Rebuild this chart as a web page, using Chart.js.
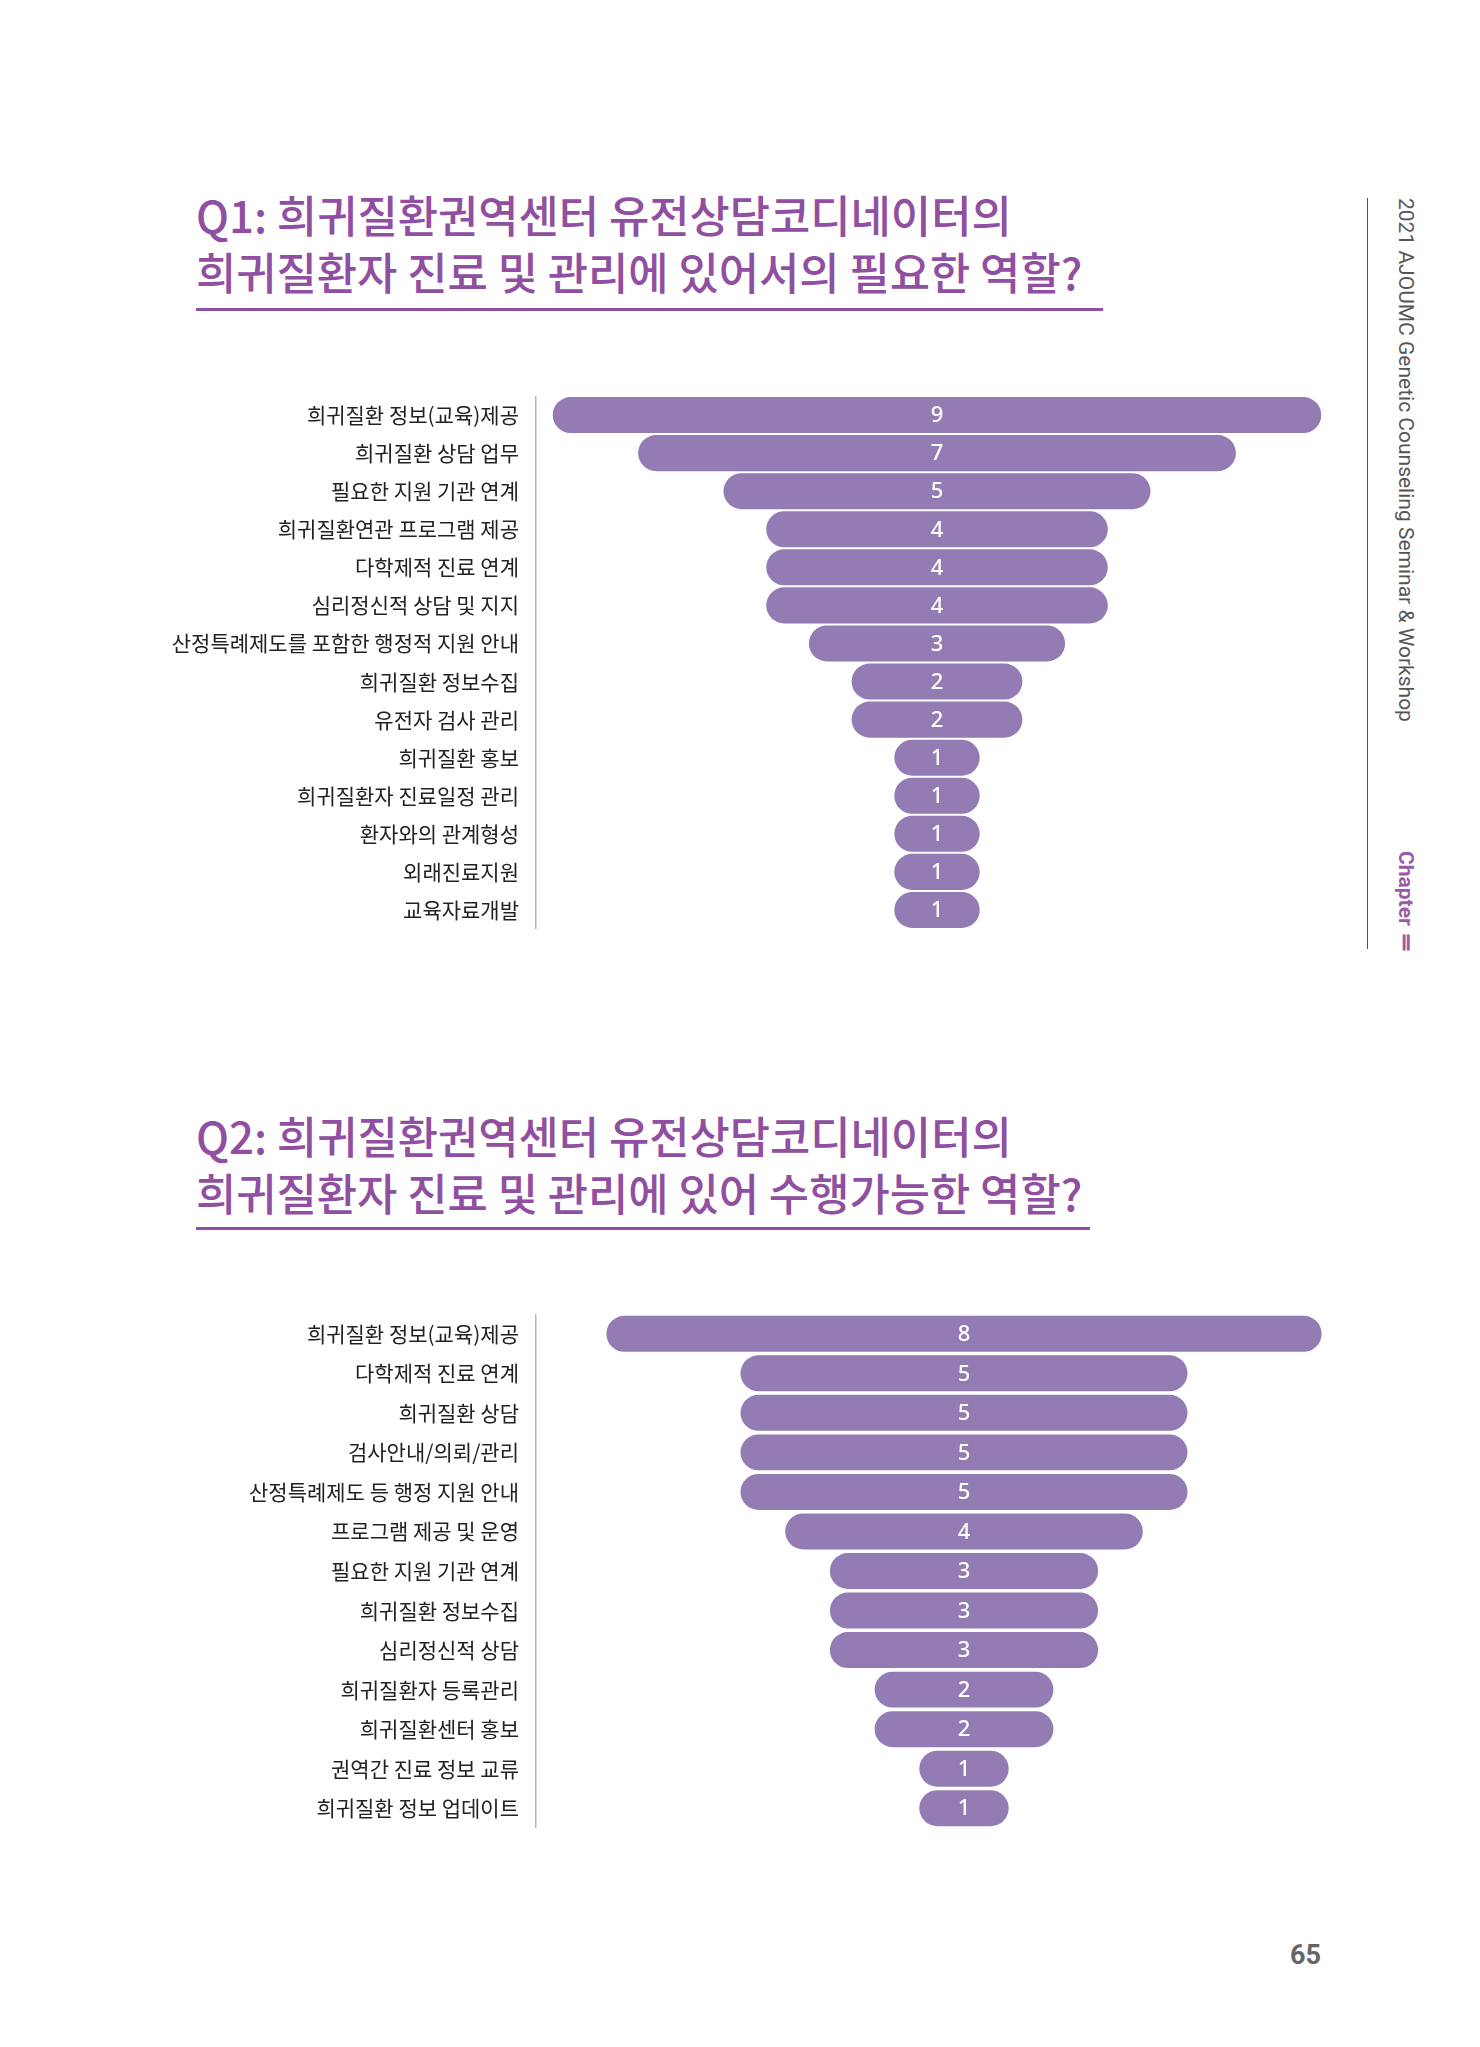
<!DOCTYPE html>
<html>
<head>
<meta charset="utf-8">
<script src="https://cdn.jsdelivr.net/npm/chart.js@4.4.0/dist/chart.umd.min.js"></script>
<style>
  html, body { margin: 0; padding: 0; background: #fff; }
  body { width: 1480px; height: 2047px; position: relative; overflow: hidden; }
  .title {
    position: absolute; left: 196px; margin: 0;
    font-family: "Noto Sans CJK KR", sans-serif; font-weight: 500;
    font-size: 44px; line-height: 57px; color: #904fa0;
    transform: scaleX(0.995); transform-origin: left top; white-space: nowrap;
  }
  .rule { position: absolute; left: 196px; height: 3px; background: #904fa0; }
  .chartbox { position: absolute; left: 150px; }
  .side { position: absolute; left: 1367px; top: 198px; width: 1px; height: 751px; background: #555; }
  .sidetext {
    position: absolute; left: 1394px; top: 198px;
    writing-mode: vertical-rl; font-family: Roboto, sans-serif; font-size: 21px;
    color: #555; white-space: nowrap;
  }
  .chapter {
    position: absolute; left: 1394px; top: 851px;
    writing-mode: vertical-rl; font-family: Roboto, sans-serif; font-size: 21px; font-weight: 700;
    color: #9a5aa8; white-space: nowrap;
  }
  .pagenum {
    position: absolute; left: 1290px; top: 1939px;
    font-family: Roboto, sans-serif; font-weight: 700; font-size: 27px; color: #666;
  }
</style>
</head>
<body>

<div class="title" style="top:186px">Q1: 희귀질환권역센터 유전상담코디네이터의<br>희귀질환자 진료 및 관리에 있어서의 필요한 역할?</div>
<div class="rule" style="top:308px; width:907px"></div>

<div class="chartbox" style="top:396px"><canvas id="chartQ1" width="1188" height="533"></canvas></div>

<div class="title" style="top:1107px">Q2: 희귀질환권역센터 유전상담코디네이터의<br>희귀질환자 진료 및 관리에 있어 수행가능한 역할?</div>
<div class="rule" style="top:1227px; width:894px"></div>

<div class="chartbox" style="top:1314px"><canvas id="chartQ2" width="1242" height="514"></canvas></div>

<div class="side"></div>
<div class="sidetext">2021 AJOUMC Genetic Counseling Seminar &amp; Workshop</div>
<div class="chapter">Chapter Ⅱ</div>
<div class="pagenum">65</div>

<script>
'use strict'

// Q1 data
var q1Labels = [
    "희귀질환 정보(교육)제공",
    "희귀질환 상담 업무",
    "필요한 지원 기관 연계",
    "희귀질환연관 프로그램 제공",
    "다학제적 진료 연계",
    "심리정신적 상담 및 지지",
    "산정특례제도를 포함한 행정적 지원 안내",
    "희귀질환 정보수집",
    "유전자 검사 관리",
    "희귀질환 홍보",
    "희귀질환자 진료일정 관리",
    "환자와의 관계형성",
    "외래진료지원",
    "교육자료개발"
];
var q1Values = [9, 7, 5, 4, 4, 4, 3, 2, 2, 1, 1, 1, 1, 1];

// Q2 data
var q2Labels = [
    "희귀질환 정보(교육)제공",
    "다학제적 진료 연계",
    "희귀질환 상담",
    "검사안내/의뢰/관리",
    "산정특례제도 등 행정 지원 안내",
    "프로그램 제공 및 운영",
    "필요한 지원 기관 연계",
    "희귀질환 정보수집",
    "심리정신적 상담",
    "희귀질환자 등록관리",
    "희귀질환센터 홍보",
    "권역간 진료 정보 교류",
    "희귀질환 정보 업데이트"
];
var q2Values = [8, 5, 5, 5, 5, 4, 3, 3, 3, 2, 2, 1, 1];

var barColor = '#937bb4';

// white count written in the middle of each bar
var countLabels = {
    id: 'countLabels',
    afterDatasetsDraw: function (chart) {
        var ctx = chart.ctx;
        var meta = chart.getDatasetMeta(0);
        var counts = chart.data.datasets[0].counts;
        ctx.save();
        ctx.fillStyle = '#fff';
        ctx.font = '500 22px "Noto Sans", sans-serif';
        ctx.textAlign = 'center';
        ctx.textBaseline = 'middle';
        meta.data.forEach(function (bar, i) {
            ctx.fillText(String(counts[i]), (bar.x + bar.base) / 2, bar.y + 1);
        });
        ctx.restore();
    }
};

function funnelChart(id, labels, values, half, barPct) {
    var ctx = document.getElementById(id).getContext('2d');
    return new Chart(ctx, {
        type: 'bar',
        data: {
            labels: labels,
            datasets: [{
                data: values.map(function (v) { return [-v / 2, v / 2]; }),
                counts: values,
                backgroundColor: barColor,
                borderWidth: 0,
                borderRadius: 18,
                borderSkipped: false,
                categoryPercentage: 1,
                barPercentage: barPct
            }]
        },
        options: {
            indexAxis: 'y',
            responsive: false,
            animation: false,
            layout: { padding: 0 },
            plugins: {
                legend: { display: false },
                tooltip: { enabled: false }
            },
            scales: {
                x: {
                    display: false,
                    min: -half,
                    max: half
                },
                y: {
                    grid: { display: false, drawTicks: false },
                    border: { display: true, color: '#b5b5b5', width: 1.5 },
                    ticks: {
                        padding: 17,
                        color: '#222',
                        font: { family: '"Noto Sans CJK KR", sans-serif', size: 21 }
                    },
                    afterFit: function (scale) {
                        scale.width = 386;
                        scale.paddingTop = 0;
                        scale.paddingBottom = 0;
                    }
                }
            }
        },
        plugins: [countLabels]
    });
}

var chartQ1 = funnelChart('chartQ1', q1Labels, q1Values, 4.696, 0.947);
var chartQ2 = funnelChart('chartQ2', q2Labels, q2Values, 4.787, 0.91);
</script>
</body>
</html>
